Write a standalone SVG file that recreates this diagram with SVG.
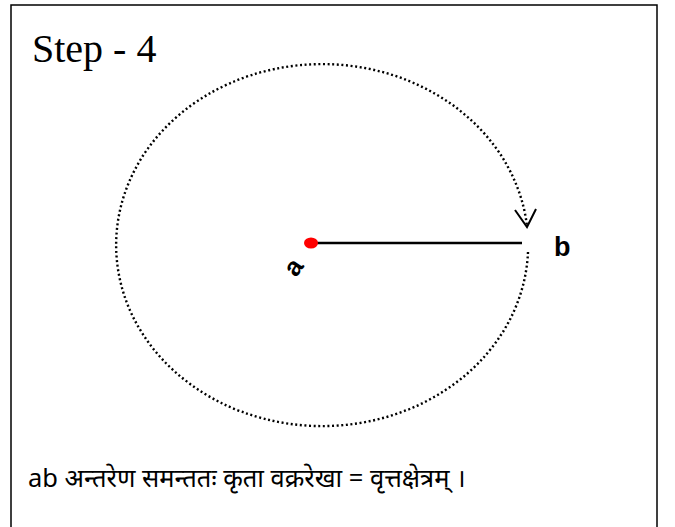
<svg xmlns="http://www.w3.org/2000/svg" width="675" height="527" viewBox="0 0 675 527">
<style>
.frame{fill:#fff;stroke:#000;stroke-width:1.5}
.dotted{fill:none;stroke:#000;stroke-width:2.4;stroke-dasharray:2 2.6}
.line{stroke:#000;stroke-width:2.5}
.lbl{font-family:"Liberation Sans",Arial,sans-serif;font-weight:bold;fill:#000}
</style>
<rect x="0" y="0" width="675" height="527" fill="#fff"/>
<rect class="frame" x="11" y="5" width="646" height="530"/>
<g id="title"><text x="32" y="62" font-family="Liberation Serif,serif" font-size="40">Step - 4</text></g>
<g id="connectors">
<path class="dotted" d="M528,252 A206,181 0 1 1 527,226"/>
<path d="M515,210 L527,227 L536,209" fill="none" stroke="#000" stroke-width="2"/>
<line class="line" x1="316" y1="243" x2="522" y2="243"/>
</g>
<g id="node-a">
<ellipse cx="311" cy="243" rx="7" ry="5.5" fill="#f00"/>
<text class="lbl" x="0" y="0" font-size="26" transform="translate(293,267) rotate(-55)" text-anchor="middle" dominant-baseline="central">a</text>
</g>
<g id="node-b"><text class="lbl" x="554" y="256" font-size="27">b</text></g>
<g id="caption"><text x="28" y="487" font-family="Noto Sans,sans-serif" font-size="25.5">ab अन्तरेण समन्ततः कृता वक्ररेखा = वृत्तक्षेत्रम् ।</text></g>
</svg>
